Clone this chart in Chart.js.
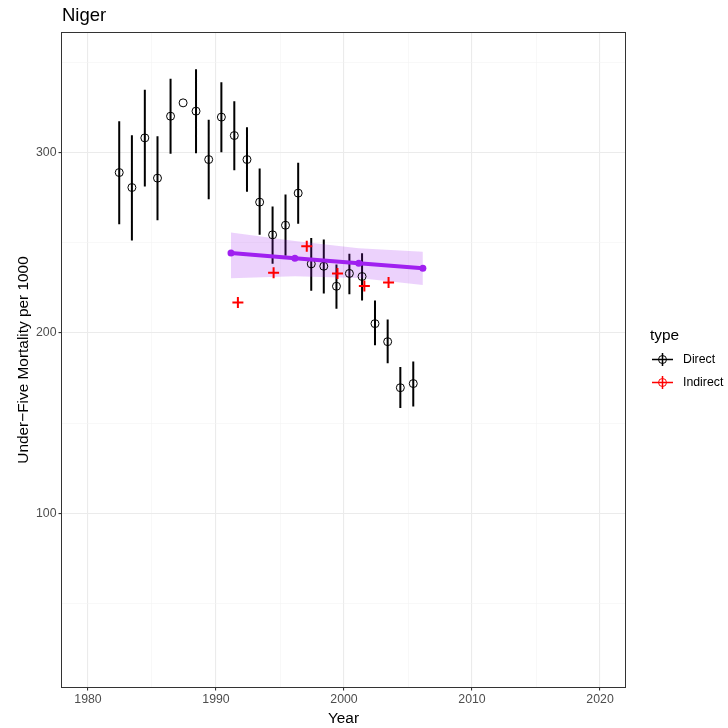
<!DOCTYPE html>
<html>
<head>
<meta charset="utf-8">
<title>Niger</title>
<script src="https://cdn.jsdelivr.net/npm/chart.js@4.4.0/dist/chart.umd.min.js"></script>
<style>
  html, body { margin: 0; padding: 0; background: #fff; }
  #wrap { width: 728px; height: 728px; }
</style>
</head>
<body>
<div id="wrap"><canvas id="chart" width="728" height="728"></canvas></div>
<script>
// direct estimates (point + interval)
const directYears = [1982.44, 1983.43, 1984.44, 1985.43, 1986.45, 1987.43, 1988.44, 1989.43, 1990.42, 1991.43, 1992.42, 1993.41,
                     1994.42, 1995.43, 1996.42, 1997.44, 1998.42, 1999.41, 2000.42, 2001.41, 2002.42, 2003.41, 2004.40, 2005.41];
const directU5MR = [288.9, 280.6, 308.1, 285.8, 320.1, 327.5, 322.9, 296.1, 319.6, 309.4, 296.1, 272.5,
                    254.4, 259.7, 277.5, 238.3, 237.0, 225.9, 233.0, 231.3, 205.2, 195.2, 169.7, 172.0];
const directLower = [260.3, 251.2, 281.2, 262.5, 299.3, null, 299.6, 274.1, 300.2, 290.2, 278.2, 254.5,
                     238.4, 242.8, 260.5, 223.4, 221.9, 213.4, 221.5, 218.0, 193.2, 183.3, 158.4, 159.3];
const directUpper = [317.3, 309.6, 334.7, 309.0, 340.8, null, 346.1, 318.1, 338.9, 328.4, 314.0, 291.1,
                     270.1, 276.7, 294.3, 252.7, 251.8, 238.0, 243.9, 244.2, 218.0, 207.5, 181.2, 184.2];

// indirect estimates
const indirectYears = [1991.71, 1994.50, 1997.09, 1999.49, 2001.59, 2003.48];
const indirectU5MR = [216.9, 233.4, 248.1, 233.0, 226.1, 228.0];

// fitted trend + band
const fitYears = [1991.17, 1996.16, 2001.15, 2006.16];
const fitU5MR = [244.3, 241.4, 238.6, 235.9];
const fitLower = [230.3, 231.5, 230.5, 226.6];
const fitUpper = [255.7, 251.0, 247.0, 245.0];

// axis ticks
const xTickLabels = [1980, 1990, 2000, 2010, 2020];
const yTickLabels = [100, 200, 300];

const FONT = '"Liberation Sans", Arial, Helvetica, sans-serif';
Chart.defaults.font.family = FONT;

const pts = (xs, ys) => xs.map((x, i) => ({ x: x, y: ys[i] }));

// vertical error segments, broken with null gaps
const errorBars = [];
directYears.forEach((yr, i) => {
    if (directLower[i] == null) return;
    errorBars.push({ x: yr, y: directLower[i] });
    errorBars.push({ x: yr, y: directUpper[i] });
    errorBars.push({ x: yr, y: null });
});

const isMajorX = v => xTickLabels.includes(v);
const isMajorY = v => yTickLabels.includes(v);

// panel border, title and legend
const decor = {
    id: 'decor',
    afterDraw(chart) {
        const { ctx, chartArea: a } = chart;
        ctx.save();
        ctx.strokeStyle = '#333333';
        ctx.lineWidth = 1;
        ctx.strokeRect(a.left - 0.5, a.top - 0.5, a.right - a.left + 1, a.bottom - a.top + 1);

        ctx.fillStyle = '#000';
        ctx.textAlign = 'left';
        ctx.textBaseline = 'alphabetic';
        ctx.font = '18.5px ' + FONT;
        ctx.fillText('Niger', 62, 21);

        ctx.font = '15.4px ' + FONT;
        ctx.fillText('type', 650, 340);

        const items = [['Direct', '#000000', 359.5], ['Indirect', '#FF0000', 382.5]];
        items.forEach(([label, col, y]) => {
            ctx.strokeStyle = col;
            ctx.lineWidth = 1.5;
            ctx.beginPath();
            ctx.moveTo(652, y); ctx.lineTo(673, y);
            ctx.moveTo(662.5, y - 6.5); ctx.lineTo(662.5, y + 6.5);
            ctx.stroke();
            ctx.lineWidth = 1;
            ctx.beginPath();
            ctx.arc(662.5, y, 4, 0, Math.PI * 2);
            ctx.stroke();
            ctx.fillStyle = '#000';
            ctx.font = '12.3px ' + FONT;
            ctx.textBaseline = 'middle';
            ctx.fillText(label, 683, y);
        });
        ctx.restore();
    }
};

new Chart(document.getElementById('chart'), {
    type: 'line',
    data: {
        datasets: [
            {   // band lower edge
                data: pts(fitYears, fitLower),
                borderWidth: 0, pointRadius: 0, fill: false, order: 5
            },
            {   // band upper edge, filled down to lower
                data: pts(fitYears, fitUpper),
                borderWidth: 0, pointRadius: 0, fill: '-1',
                backgroundColor: 'rgba(160, 32, 240, 0.2)', order: 4
            },
            {   // error bars
                data: errorBars,
                borderColor: '#000', borderWidth: 2, pointRadius: 0,
                spanGaps: false, order: 6
            },
            {   // direct points
                data: pts(directYears, directU5MR),
                showLine: false, pointStyle: 'circle', pointRadius: 4,
                pointBorderWidth: 1, pointBorderColor: '#000',
                pointBackgroundColor: 'rgba(0,0,0,0)', order: 3
            },
            {   // indirect points
                data: pts(indirectYears, indirectU5MR),
                showLine: false, pointStyle: 'cross', pointRadius: 5.5,
                pointBorderWidth: 2, pointBorderColor: '#FF0000', order: 2
            },
            {   // fitted line
                data: pts(fitYears, fitU5MR),
                borderColor: '#A020F0', borderWidth: 4, tension: 0,
                pointRadius: 3.5, pointBackgroundColor: '#A020F0',
                pointBorderWidth: 0, order: 1
            }
        ]
    },
    options: {
        responsive: false,
        animation: false,
        events: [],
        layout: { padding: { top: 33, right: 103, left: 0, bottom: 0 } },
        plugins: { legend: { display: false }, tooltip: { enabled: false }, title: { display: false } },
        scales: {
            x: {
                type: 'linear',
                min: 1977.97, max: 2021.95,
                afterFit(scale) { scale.height = 41; },
                border: { display: false },
                grid: {
                    color: c => isMajorX(c.tick.value) ? '#EBEBEB' : '#F3F3F3',
                    lineWidth: c => isMajorX(c.tick.value) ? 1.1 : 0.6,
                    tickColor: c => isMajorX(c.tick.value) ? '#333333' : 'rgba(0,0,0,0)',
                    tickLength: 3.5
                },
                ticks: {
                    stepSize: 5, includeBounds: false, autoSkip: false, maxRotation: 0,
                    padding: 2, color: '#4D4D4D', font: { size: 12.3 },
                    callback: v => isMajorX(v) ? String(v) : ''
                },
                title: { display: true, text: 'Year', color: '#000', font: { size: 15.4 }, padding: { top: 0, bottom: 0.5 } }
            },
            y: {
                type: 'linear',
                min: 3.9, max: 366.2,
                afterFit(scale) { scale.width = 62; },
                border: { display: false },
                grid: {
                    color: c => isMajorY(c.tick.value) ? '#EBEBEB' : '#F3F3F3',
                    lineWidth: c => isMajorY(c.tick.value) ? 1.1 : 0.6,
                    tickColor: c => isMajorY(c.tick.value) ? '#333333' : 'rgba(0,0,0,0)',
                    tickLength: 3.5
                },
                ticks: {
                    stepSize: 50, includeBounds: false, autoSkip: false,
                    padding: 2, color: '#4D4D4D', font: { size: 12.3 },
                    callback: v => isMajorY(v) ? String(v) : ''
                },
                title: { display: true, text: 'Under\u2212Five Mortality per 1000', color: '#000', font: { size: 15.4 }, padding: { top: 15, bottom: 0 } }
            }
        }
    },
    plugins: [decor]
});
</script>
</body>
</html>
